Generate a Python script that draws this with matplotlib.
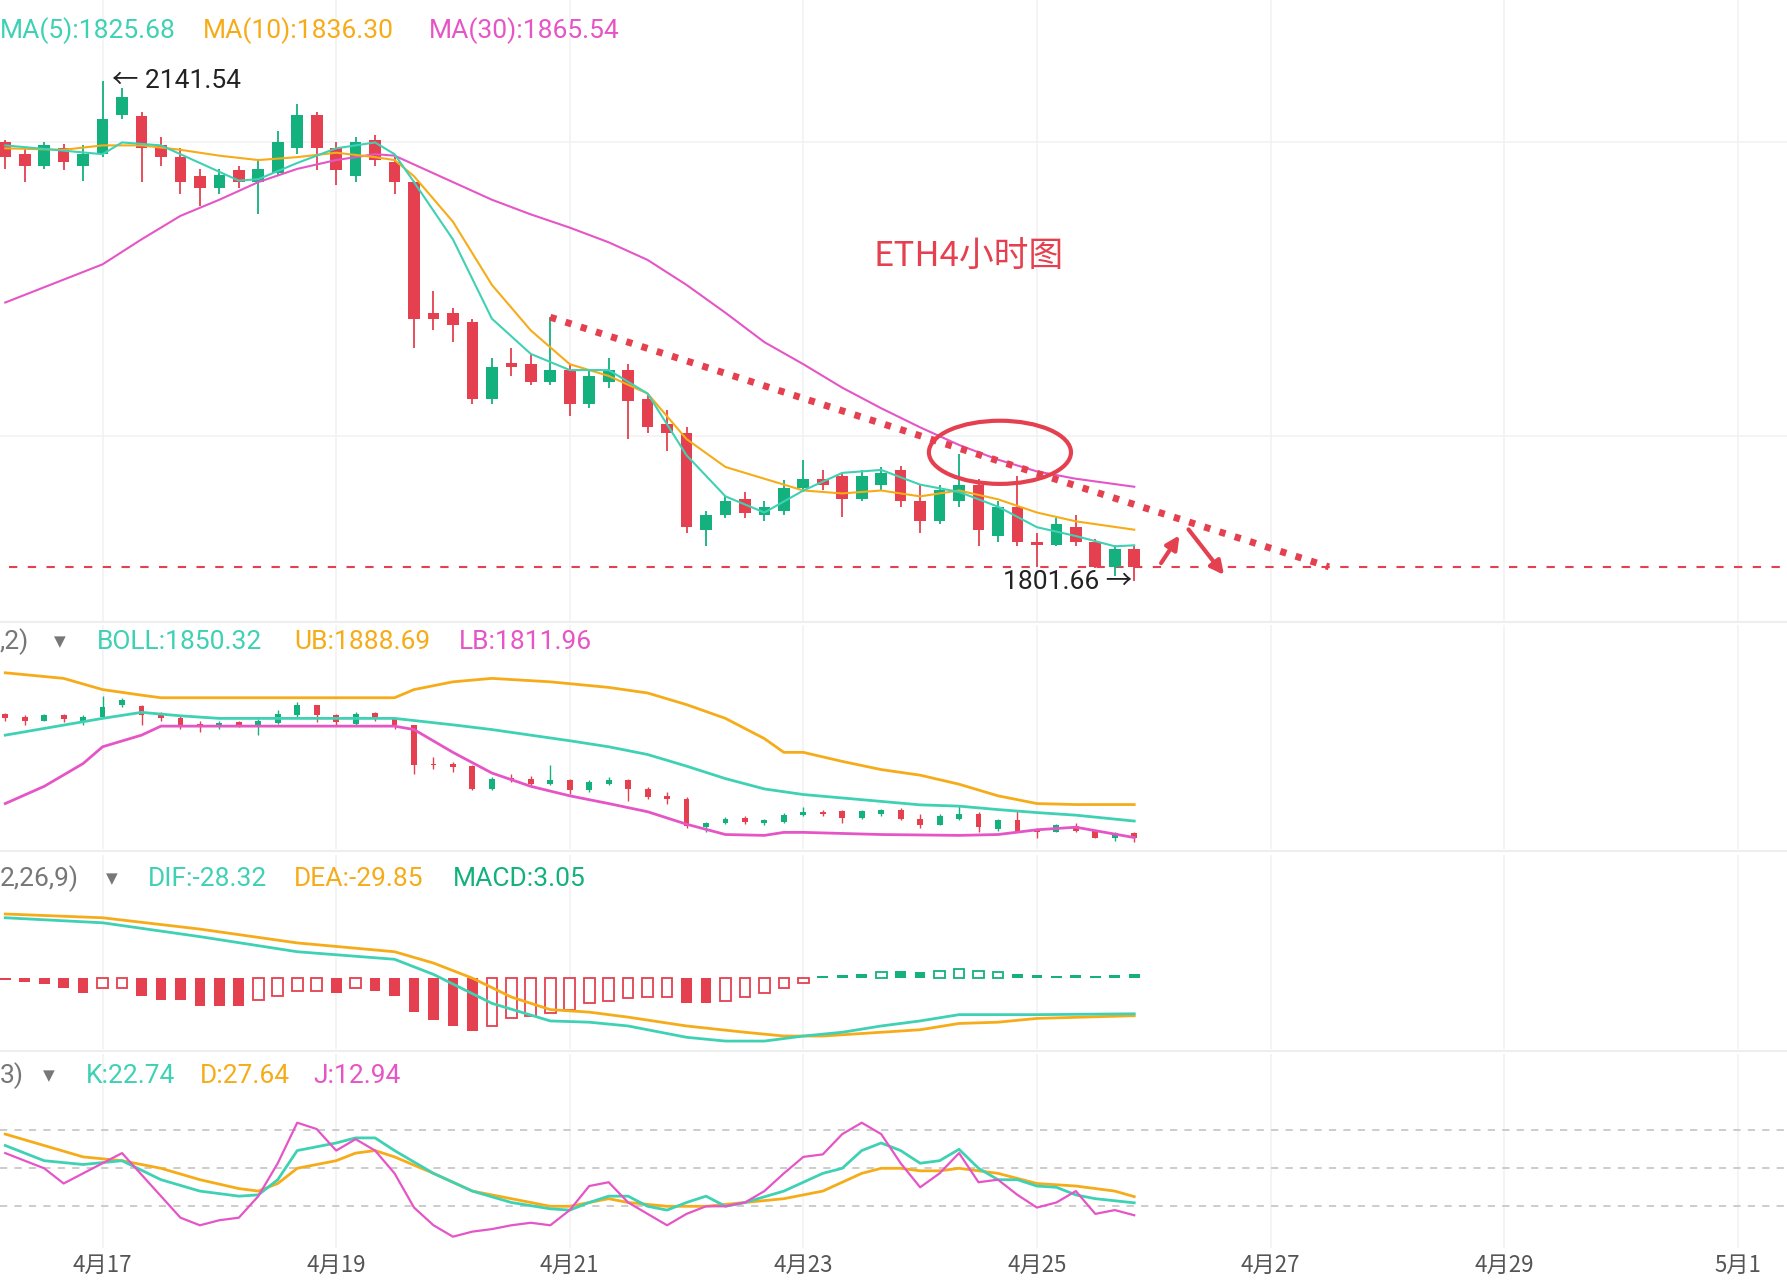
import matplotlib
matplotlib.use("Agg")
import matplotlib.pyplot as plt
from matplotlib.patches import Ellipse

plt.rcParams["font.family"] = ["Roboto", "Noto Sans CJK SC"]

# ---------------- data ----------------
idx = list(range(-5, 54))
opens = [2100,2092,2084,2096,2084,2092,2119,2118,2098,2090,2077,2069,2081,2073,2079,2096,2119,2096,2077,2102,2087,
         2073,1984,1984,1978,1925,1950,1949,1937,1945,1922,1937,1945,1925,1908,1902,1836,1846,1857,1846,1849,1865,
         1871,1873,1857,1867,1877,1856,1842,1856,1867,1832,1852,1828,1826,1838,1828,1811,1823]
closes = [2090,2084,2098,2087,2092,2116,2131,2096,2090,2073,2069,2078,2073,2082,2100,2119,2096,2081,2100,2088,2073,
          1980,1980,1976,1925,1947,1947,1937,1945,1922,1941,1945,1924,1906,1902,1838,1846,1856,1848,1852,1865,1871,
          1867,1857,1873,1875,1856,1842,1863,1867,1836,1852,1828,1826,1840,1828,1811,1823,1811]
highs = [2102,2096,2100,2099,2098,2141.54,2137,2121,2104,2096,2082,2082,2084,2088,2108,2126,2121,2100,2104,2105,2090,
         2074,1999,1987,1980,1953,1960,1956,1981,1949,1945,1953,1949,1929,1918,1906,1849,1859,1862,1856,1870,1884,
         1877,1875,1877,1879,1880,1867,1867,1888,1871,1856,1873,1834,1844,1846,1830,1826,1826]
lows = [2082,2073,2082,2081,2074,2090,2116,2073,2084,2065,2057,2065,2069,2051,2077,2092,2081,2071,2073,2084,2065,
        1960,1972,1964,1922,1922,1941,1935,1935,1914,1919,1933,1898,1902,1890,1834,1825,1844,1844,1842,1846,1862,
        1863,1845,1856,1863,1852,1834,1840,1852,1825,1828,1825,1811,1825,1825,1810,1805,1801.66]

ma5_x = [-5,0,1,3,5,7,8,10,12,14,15,16,18,20,22,24,26,28,30,32,34,36,38,40,42,44,46,48,50,52,53]
ma5 = [2098,2092,2100,2098,2086,2074,2075,2086,2096,2100,2092,2073,2034,1980,1956,1945,1945,1929,1887,1859,1848,
       1863,1875,1877,1867,1862,1852,1838,1832,1825,1825.68]
ma10_x = [-5,-2,0,2,4,6,8,10,12,14,15,16,18,20,22,24,26,28,30,32,34,36,38,40,42,44,46,48,50,53]
ma10 = [2096,2095,2098,2098,2095,2091,2088,2090,2093,2090,2088,2077,2046,2003,1972,1949,1941,1929,1898,1879,1871,
        1863,1861,1863,1859,1863,1857,1848,1842,1836.30]
ma30_x = [-5,0,2,4,6,8,10,12,14,15,16,18,20,22,24,26,28,30,32,34,36,38,40,42,44,46,48,50,53]
ma30 = [1991,2017,2034,2050,2061,2073,2082,2088,2092,2091,2085,2073,2061,2051,2042,2032,2020,2003,1984,1964,1949,
        1933,1919,1906,1894,1884,1876,1871,1865.54]

ub_x = [-5,-2,0,2,3,5,10,15,16,18,20,23,26,28,30,32,34,35,36,38,40,42,44,46,48,50,53]
ub = [2195,2182,2156,2143,2137,2137,2137,2137,2156,2174,2182,2174,2161,2148,2121,2089,2042,2010,2010,1989,1970,
      1957,1936,1909,1891,1888.69,1888.69]
mid_x = [-5,0,2,4,6,10,15,16,18,20,22,24,26,28,30,32,34,36,38,40,42,44,46,48,50,53]
mid = [2050,2089,2103,2095,2089,2089,2089,2084,2074,2063,2050,2037,2023,2005,1978,1949,1925,1912,1904,1896,1888,
       1885,1877,1870,1864,1850.32]
lb_x = [-5,-3,-1,0,2,3,5,10,15,16,18,20,22,24,26,28,30,32,34,35,36,40,44,46,48,50,53]
lb = [1891,1931,1984,2023,2050,2071,2071,2071,2071,2063,2010,1962,1931,1909,1891,1872,1843,1819,1817,1824,1824,
      1819,1817,1819,1830,1836,1811.96]

dif_x = [-5,0,5,10,15,17,20,23,25,27,30,32,34,36,38,40,42,44,46,48,53]
dif = [48,44,33,21,15,3,-20,-34,-35,-38,-47,-50,-50,-46,-43,-38,-34,-29,-29,-29,-28.32]
dea_x = [-5,0,5,10,15,17,19,21,23,25,27,30,33,35,37,40,42,44,46,48,53]
dea = [51,48,39,28,21,12,0,-15,-25,-27,-31,-38,-43,-46,-46,-43,-41,-36,-35,-32,-29.85]
macd = [-1.5,-3,-5,-8,-12,-8,-8,-14,-17,-17,-22,-22,-22,-17,-14,-10,-10,-12,-8,-10,-14,-27,-33,-38,-42,-38,-32,
        -30,-28,-25,-20,-18,-16,-15,-15,-20,-20,-18,-15,-12,-8,-4,2,2.5,3,5,6,5,6,7,6,5,3,2.5,2,2.5,2,2.5,3.05]
macd_hollow = [0,0,0,0,0,1,1,0,0,0,0,0,0,1,1,1,1,0,1,0,0,0,0,0,0,1,1,1,1,1,1,1,1,1,1,0,0,1,1,1,1,1,0,0,0,1,0,0,
               1,1,1,1,0,0,0,0,0,0,0]

k_x = [-5,-3,-1,1,3,5,7,8,9,10,12,13,14,15,17,19,21,23,24,25,26,27,28,29,30,31,32,33,35,37,38,39,40,41,42,43,44,
       45,46,47,48,49,50,51,53]
k_v = [68,56,53,56,41,32,28,29,41,64,70,74,74,64,46,32,23,18,17,23,28,28,20,17,23,28,20,23,32,46,50,64,70,64,54,56,
       65,50,41,41,36,35,29,26,22.74]
d_x = [-5,-3,-1,1,3,5,7,8,9,10,12,13,14,15,17,19,21,23,24,25,26,27,29,31,33,35,37,39,40,41,42,43,44,46,48,50,52,53]
d_v = [77,68,59,56,50,41,34,32,38,50,56,62,64,59,46,32,26,20,20,23,26,23,20,20,23,26,32,46,50,50,48,48,50,46,38,36,
       32,27.64]
j_x = [-5,-3,-2,-1,0,1,3,4,5,6,7,8,9,10,11,12,13,14,15,16,17,18,19,20,21,22,23,24,25,26,27,28,29,30,31,32,33,34,
       35,36,37,38,39,40,41,42,43,44,45,46,47,48,49,50,51,52,53]
j_v = [62,50,38,46,54,62,28,11,5,9,11,28,54,86,81,64,73,64,46,19,5,-4,0,2,5,7,5,17,36,39,23,14,5,14,20,20,23,32,46,
       59,61,77,86,77,54,35,46,62,39,41,29,19,23,32,14,17,12.94]

tick_pos = [0, 12, 24, 36, 48, 60, 72, 84]
tick_labels = ["4月17", "4月19", "4月21", "4月23", "4月25", "4月27", "4月29", "5月1"]

# ---------------- style ----------------
UP = "#14b07e"; DN = "#e5404f"
C5 = "#3fd1b4"; C10 = "#f6ac19"; C30 = "#e655c6"
W, H = 1568.0, 1123.0
XL = (-90/17.08, (1568-90)/17.08)
FS = 19

fig = plt.figure(figsize=(17.87, 12.80), dpi=100)
def mkax(top, bot, ylim):
    ax = fig.add_axes([0, 1-bot/H, 1, (bot-top)/H])
    ax.set_xlim(*XL); ax.set_ylim(*ylim)
    for s in ax.spines.values(): s.set_visible(False)
    ax.tick_params(left=False, labelleft=False, bottom=False, labelbottom=False)
    for t in tick_pos:
        ax.axvline(t, color="#f2f2f2", lw=1.2, zorder=0)
    return ax

def candles(ax, w, lw):
    for i, o, c, h, l in zip(idx, opens, closes, highs, lows):
        col = UP if c >= o else DN
        ax.vlines(i, l, h, color=col, lw=lw, zorder=3)
        ax.bar(i, max(abs(c-o), 0.6), bottom=min(o, c), width=w, color=col, zorder=3, lw=0)

def tri(x, y):
    fig.text(x, y, "▼", color="#777777", fontsize=11, va="center", family="DejaVu Sans")

# main
ax = mkax(0, 545, (1774, 2197))
ax.axhline(2100, color="#f2f2f2", lw=1.2, zorder=0); ax.axhline(1900, color="#f2f2f2", lw=1.2, zorder=0)
ax.plot(ma30_x, ma30, color=C30, lw=1.5, zorder=4)
ax.plot(ma10_x, ma10, color=C10, lw=1.5, zorder=4)
ax.plot(ma5_x, ma5, color=C5, lw=1.5, zorder=4)
candles(ax, 0.6, 1.3)
ax.axhline(1811, xmin=0.005, color=DN, lw=1.5, ls=(0, (4, 5)), zorder=2)
ax.plot([23, 63], [1981, 1811], color=DN, lw=5, ls=(0, (0.9, 1.4)), zorder=5)
ax.add_patch(Ellipse((46.1, 1889), 7.3, 43, fill=False, ec=DN, lw=3, zorder=6))
ax.annotate("", xy=(55.4, 1834), xytext=(54.3, 1812),
            arrowprops=dict(arrowstyle="-|>,head_width=0.4,head_length=0.8", color=DN, lw=3))
ax.annotate("", xy=(57.7, 1804), xytext=(55.7, 1838),
            arrowprops=dict(arrowstyle="-|>,head_width=0.4,head_length=0.8", color=DN, lw=3))
ax.text(0.5, 2141.54, "← 2141.54", fontsize=FS, va="center", ha="left", color="#222222")
ax.text(52.9, 1800.5, "1801.66 →", fontsize=FS, va="center", ha="right", color="#222222")
ax.text(850/W*(XL[1]-XL[0])+XL[0], 2022, "ETH4小时图", fontsize=25, color=DN, ha="center", va="center",
        family="Noto Sans CJK SC")
fig.text(0, 1-27/H, "MA(5):1825.68", color=C5, fontsize=FS, va="center")
fig.text(178/W, 1-27/H, "MA(10):1836.30", color=C10, fontsize=FS, va="center")
fig.text(376/W, 1-27/H, "MA(30):1865.54", color=C30, fontsize=FS, va="center")

# BOLL
ax2 = mkax(548, 745, (1785, 2307))
ax2.plot(ub_x, ub, color=C10, lw=2, zorder=4)
ax2.plot(mid_x, mid, color=C5, lw=2, zorder=4)
ax2.plot(lb_x, lb, color=C30, lw=2, zorder=4)
candles(ax2, 0.3, 1.0)
y = 1-563/H
fig.text(0, y, ",2)", color="#777777", fontsize=FS, va="center")
tri(47/W, y)
fig.text(85/W, y, "BOLL:1850.32", color=C5, fontsize=FS, va="center")
fig.text(258/W, y, "UB:1888.69", color=C10, fontsize=FS, va="center")
fig.text(403/W, y, "LB:1811.96", color=C30, fontsize=FS, va="center")

# MACD
ax3 = mkax(750, 920, (-56, 98))
for i, v, hol in zip(idx, macd, macd_hollow):
    col = UP if v >= 0 else DN
    if hol:
        ax3.bar(i, v, width=0.55, facecolor="white", edgecolor=col, lw=1.3, zorder=3)
    else:
        ax3.bar(i, v, width=0.55, color=col, lw=0, zorder=3)
ax3.plot(dea_x, dea, color=C10, lw=2, zorder=4)
ax3.plot(dif_x, dif, color=C5, lw=2, zorder=4)
y = 1-771/H
fig.text(0, y, "2,26,9)", color="#777777", fontsize=FS, va="center")
tri(93/W, y)
fig.text(130/W, y, "DIF:-28.32", color=C5, fontsize=FS, va="center")
fig.text(258/W, y, "DEA:-29.85", color=C10, fontsize=FS, va="center")
fig.text(397/W, y, "MACD:3.05", color=UP, fontsize=FS, va="center")

# KDJ
ax4 = mkax(925, 1095, (-13, 140))
for lv in (80, 50, 20):
    ax4.axhline(lv, color="#c8c8c8", lw=1.3, ls=(0, (4, 4)), zorder=1)
ax4.plot(d_x, d_v, color=C10, lw=2, zorder=4)
ax4.plot(k_x, k_v, color=C5, lw=2, zorder=4)
ax4.plot(j_x, j_v, color=C30, lw=1.6, zorder=4)
ax4.tick_params(labelbottom=True, pad=1, labelsize=16, labelcolor="#555555")
ax4.set_xticks(tick_pos)
ax4.set_xticklabels(tick_labels, family="Noto Sans CJK SC")
y = 1-944/H
fig.text(0, y, "3)", color="#777777", fontsize=FS, va="center")
tri(38/W, y)
fig.text(75/W, y, "K:22.74", color=C5, fontsize=FS, va="center")
fig.text(175/W, y, "D:27.64", color=C10, fontsize=FS, va="center")
fig.text(275/W, y, "J:12.94", color=C30, fontsize=FS, va="center")

for yy in (546, 747, 922):
    fig.add_artist(plt.Line2D([0, 1], [1-yy/H]*2, color="#eeeeee", lw=1.5))

fig.savefig("out.png", dpi=100, facecolor="white")
